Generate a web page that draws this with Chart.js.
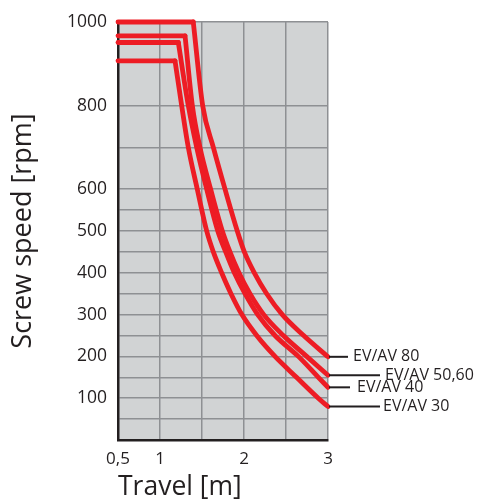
<!DOCTYPE html>
<html>
<head>
<meta charset="utf-8">
<script src="https://cdn.jsdelivr.net/npm/chart.js@4/dist/chart.umd.min.js"></script>
<style>
  html, body { margin: 0; padding: 0; background: #ffffff; }
  #wrap { width: 477px; height: 501px; }
</style>
</head>
<body>
<div id="wrap"><canvas id="c" width="477" height="501"></canvas></div>
<script>
// ---- data ----
const seriesNames = ['EV/AV 80', 'EV/AV 50,60', 'EV/AV 40', 'EV/AV 30'];

// travel [m] / screw speed [rpm]; first two points = constant top-speed plateau
const travel80 = [0.5, 1.396, 1.508, 1.635, 1.774, 1.92, 2.004, 2.123, 2.27, 2.456, 2.71, 3.0];
const speed80  = [1000, 1000, 800, 700, 600, 500, 450, 400, 350, 300, 250, 199];

const travel5060 = [0.5, 1.298, 1.385, 1.476, 1.603, 1.742, 1.833, 1.94, 2.071, 2.235, 2.468, 2.746, 3.0];
const speed5060  = [967, 967, 800, 700, 600, 500, 450, 400, 350, 300, 250, 200, 155];

const travel40 = [0.5, 1.218, 1.337, 1.437, 1.556, 1.688, 1.782, 1.885, 2.012, 2.163, 2.369, 2.647, 2.885, 3.0];
const speed40  = [951, 951, 800, 700, 600, 500, 450, 400, 350, 300, 250, 200, 150, 126];

const travel30 = [0.5, 1.179, 1.258, 1.337, 1.444, 1.556, 1.635, 1.734, 1.845, 1.975, 2.151, 2.369, 2.625, 2.885, 3.0];
const speed30  = [907, 907, 800, 700, 600, 500, 450, 400, 350, 300, 250, 200, 150, 100, 80];

const travelTickValues = [0.5, 1, 2, 3];
const travelTickLabels = ['0,5', '1', '2', '3'];
const speedTickValues  = [100, 200, 300, 400, 500, 600, 800, 1000];
const speedGridValues  = [0, 50, 100, 150, 200, 250, 300, 350, 400, 450, 500, 550, 600, 700, 800, 1000];

// ---- styling ----
const RED = '#ed1c24';
const TEXT = '#231f20';
const GRID = '#8e9093';
const PLOT_BG = '#d1d3d4';
const FONT = '"Open Sans", "Noto Sans", sans-serif';
const leaderLen = [20, 52, 22, 52];
const labelGap = [5, 5, 7, 3];

function pts(xs, ys) { return xs.map((x, i) => ({ x: x, y: ys[i] })); }
const seriesTravel = [travel80, travel5060, travel40, travel30];
const seriesSpeed  = [speed80, speed5060, speed40, speed30];

const datasets = [];
seriesNames.forEach((name, i) => {
  const all = pts(seriesTravel[i], seriesSpeed[i]);
  const base = {
    borderColor: RED, borderWidth: 4.8, pointRadius: 0, fill: false, clip: false,
    borderCapStyle: 'round', borderJoinStyle: 'miter'
  };
  // plateau
  datasets.push(Object.assign({}, base, { label: name + ' plateau', data: all.slice(0, 2), tension: 0, isPlateau: true }));
  // falling curve
  datasets.push(Object.assign({}, base, { label: name, data: all.slice(1), cubicInterpolationMode: 'monotone', seriesIndex: i }));
});

const plotBg = {
  id: 'plotBg',
  beforeDraw(chart) {
    const { ctx, chartArea: a } = chart;
    ctx.save();
    ctx.fillStyle = PLOT_BG;
    ctx.fillRect(a.left, a.top, a.right - a.left, a.bottom - a.top);
    ctx.restore();
  }
};

const endLabels = {
  id: 'endLabels',
  afterDatasetsDraw(chart) {
    const { ctx, scales } = chart;
    ctx.save();
    ctx.font = '16px ' + FONT;
    ctx.fillStyle = TEXT;
    ctx.strokeStyle = TEXT;
    ctx.lineWidth = 2;
    ctx.textBaseline = 'middle';
    ctx.textAlign = 'left';
    chart.data.datasets.forEach((ds) => {
      if (ds.isPlateau) return;
      const i = ds.seriesIndex;
      const last = ds.data[ds.data.length - 1];
      const y = scales.y.getPixelForValue(last.y);
      const x0 = scales.x.getPixelForValue(last.x);
      const x1 = x0 + leaderLen[i];
      ctx.beginPath();
      ctx.moveTo(x0 + 1, y);
      ctx.lineTo(x1, y);
      ctx.stroke();
      ctx.fillText(ds.label, x1 + labelGap[i], y);
    });
    ctx.restore();
  }
};

const PAD_LEFT = 6, PAD_TOP = 22, PAD_RIGHT = 149, PAD_BOTTOM = 0;

new Chart(document.getElementById('c'), {
  type: 'line',
  data: { datasets: datasets },
  options: {
    responsive: false,
    animation: false,
    layout: { padding: { left: PAD_LEFT, top: PAD_TOP, right: PAD_RIGHT, bottom: PAD_BOTTOM } },
    plugins: { legend: { display: false }, tooltip: { enabled: false } },
    scales: {
      x: {
        type: 'linear',
        min: 0.5, max: 3,
        afterBuildTicks(scale) {
          const t = [];
          for (let v = 0.5; v <= 3.0001; v += 0.5) t.push({ value: Math.round(v * 10) / 10 });
          scale.ticks = t;
        },
        afterFit(scale) { scale.height = 501 - 440 - PAD_BOTTOM; },
        ticks: {
          autoSkip: false,
          maxRotation: 0,
          padding: 9,
          color: TEXT,
          font: { family: FONT, size: 17 },
          callback(v) {
            const i = travelTickValues.indexOf(v);
            return i >= 0 ? travelTickLabels[i] : '';
          }
        },
        grid: { color: GRID, lineWidth: 1.5, drawTicks: false },
        border: { display: true, color: TEXT, width: 2.5 },
        title: {
          display: true,
          text: 'Travel [m]',
          align: 'start',
          color: TEXT,
          font: { family: FONT, size: 26.5, lineHeight: 1 },
          padding: { top: 0, bottom: 0 }
        }
      },
      y: {
        type: 'linear',
        min: 0, max: 1000,
        afterBuildTicks(scale) {
          scale.ticks = speedGridValues.concat([900]).sort((a, b) => a - b).map(v => ({ value: v }));
        },
        afterFit(scale) { scale.width = 118 - PAD_LEFT; },
        ticks: {
          autoSkip: false,
          padding: 11,
          color: TEXT,
          font: { family: FONT, size: 17.5 },
          callback(v) { return speedTickValues.indexOf(v) >= 0 ? String(v) : ''; }
        },
        grid: {
          lineWidth: 1.5,
          drawTicks: false,
          color(ctx) {
            const v = ctx.tick ? ctx.tick.value : null;
            return speedGridValues.indexOf(v) >= 0 ? GRID : 'rgba(0,0,0,0)';
          }
        },
        border: { display: true, color: TEXT, width: 2.5 },
        title: {
          display: true,
          text: 'Screw speed [rpm]',
          color: TEXT,
          font: { family: FONT, size: 27, lineHeight: 1 },
          padding: { top: 4, bottom: 0 }
        }
      }
    }
  },
  plugins: [plotBg, endLabels]
});
</script>
</body>
</html>
